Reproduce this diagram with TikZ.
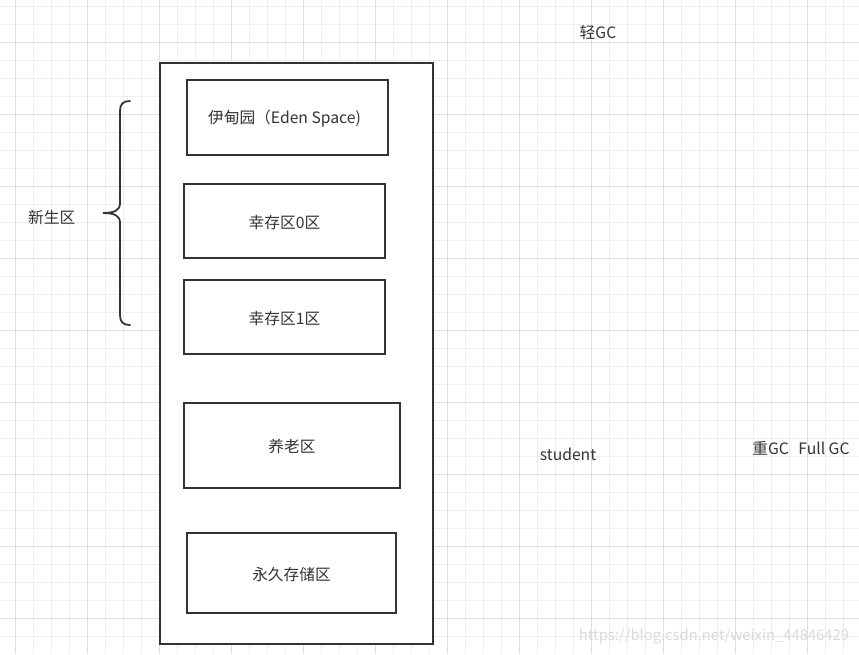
\documentclass[tikz,border=0pt]{standalone}
\usepackage{fontspec}
\setmainfont{Noto Sans CJK SC}
\definecolor{inkgray}{HTML}{333333}
\definecolor{gridlight}{HTML}{EEEEEE}
\definecolor{griddark}{HTML}{DEDEDE}

\begin{document}
\begin{tikzpicture}[x=1pt,y=-1pt,
    region/.style={draw=inkgray,line width=1.8pt,fill=white,inner sep=0pt},
    txt/.style={text=inkgray,font=\fontsize{15.7}{18}\selectfont,inner sep=0pt},
    boxtxt/.style={txt,yshift=-1.5pt}]
    \useasboundingbox (0,0) rectangle (859,654);
    \clip (0,0) rectangle (859,654);

    % background grid
    \foreach \k in {0,...,46} \draw[gridlight,line width=.8pt] ({15.3+18*\k},0) -- ++(0,654);
    \foreach \k in {0,...,35} \draw[gridlight,line width=.8pt] (0,{6.6+18*\k}) -- ++(859,0);
    \foreach \k in {0,...,11} \draw[griddark,line width=.8pt] ({15.3+72*\k},0) -- ++(0,654);
    \foreach \k in {0,...,8} \draw[griddark,line width=.8pt] (0,{42.6+72*\k}) -- ++(859,0);

    % heap and its regions
    \node[region,minimum width=273pt,minimum height=581pt] (heap) at (296.5,353.5) {};
    \node[region,minimum width=201pt,minimum height=75pt] (eden) at (287.5,117.5) {};
    \node[boxtxt] (eden-text) at ([xshift=-3pt]eden.center) {伊甸园（Eden Space)};
    \node[region,minimum width=201pt,minimum height=74pt] (survivor0) at (284.5,221) {};
    \node[boxtxt] (survivor0-text) at (survivor0.center) {幸存区0区};
    \node[region,minimum width=201pt,minimum height=74pt] (survivor1) at (284.5,317) {};
    \node[boxtxt] (survivor1-text) at (survivor1.center) {幸存区1区};
    \node[region,minimum width=216pt,minimum height=85pt] (old) at (292,445.5) {};
    \node[boxtxt] (old-text) at (old.center) {养老区};
    \node[region,minimum width=209pt,minimum height=80pt] (perm) at (291.5,573) {};
    \node[boxtxt] (perm-text) at (perm.center) {永久存储区};

    % brace for the young generation
    \draw[inkgray,line width=1.8pt,line cap=round] (130,101) .. controls (123,101) and (120,104) .. (120,111)
        -- (120,203) .. controls (120,210) and (115,213) .. (103,213)
        .. controls (115,213) and (120,216) .. (120,223)
        -- (120,315) .. controls (120,322) and (123,325) .. (130,325);
    \node[txt] (young) at (51.7,217.5) {新生区};

    \node[txt] (minor-gc) at (598,32.5) {轻GC};
    \node[txt] (student) at (568,454) {student};
    \node[txt] (full-gc) at (801,448) {重GC\hspace{.6em}Full GC};
    \node[txt,text=black!15,font=\fontsize{14.8}{18}\selectfont] (mark) at (714,636) {https://blog.csdn.net/weixin\_44846429};
\end{tikzpicture}
\end{document}
